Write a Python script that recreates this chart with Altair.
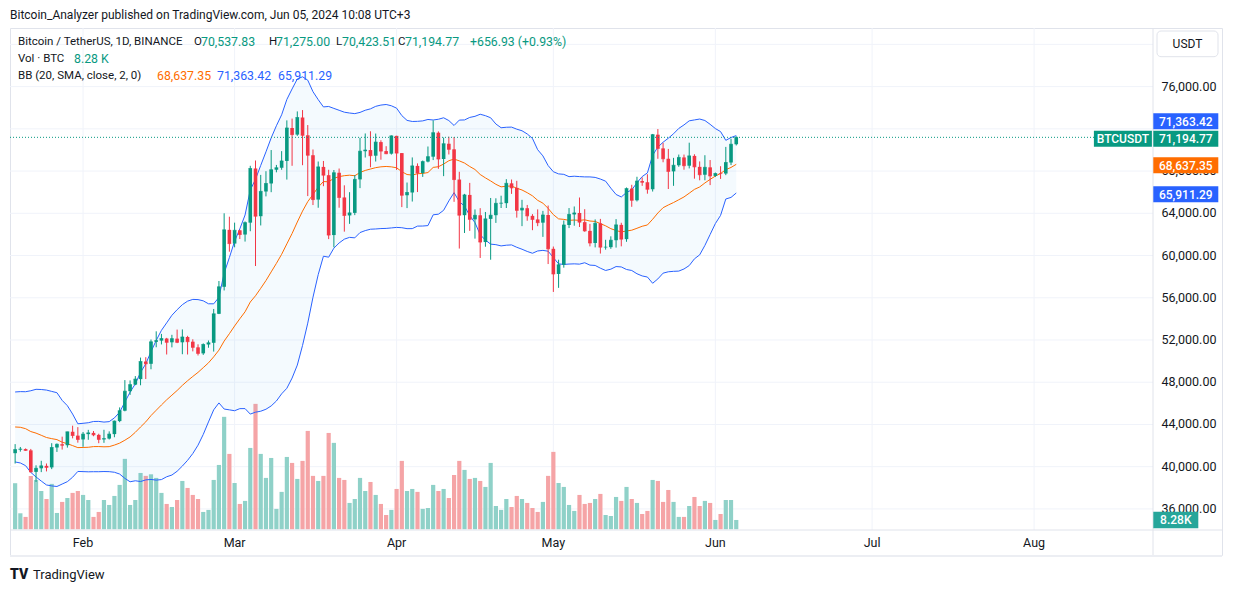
import altair as alt
import pandas as pd

FONT = "Roboto"
INK = "#131722"
UP = "#089981"
DOWN = "#f23645"
VOL_UP = "#8fd1c8"
VOL_DOWN = "#f5a4a6"
BLUE = "#2962ff"
ORANGE = "#ff6d00"
GRID = "#f0f3fa"
BORDER = "#e0e3eb"

# ---------------- data (daily BTCUSDT, 19 Jan - 5 Jun 2024) ----------------
dates = pd.date_range("2024-01-19", "2024-06-05", freq="D").strftime("%Y-%m-%d").tolist()

opens = [
    41278, 41618, 41665, 41545, 39508, 39845, 40077, 39933, 41816, 42120, 42031, 43302, 42941,
    42580, 43082, 43200, 43011, 42583, 42658, 43084, 44318, 45301, 47147, 47771, 48293, 49958,
    49743, 51826, 51939, 52137, 51780, 52126, 51780, 52285, 51839, 51304, 50731, 51572, 51733,
    54477, 57037, 62433,
    61130, 62387, 61988, 63114, 68245, 63725, 66075, 66824, 68125, 68313, 68956, 72079, 71453,
    73072, 71388, 69500, 65300, 68393, 67610, 61938, 67840, 65501, 63796, 64038, 67211, 69880,
    69988, 69455, 70744, 69892, 69645,
    71333, 69702, 65709, 65970, 68488, 67820, 68897, 69362, 71632, 69140, 70587, 70060, 67196,
    63821, 65739, 63426, 63812, 61277, 63470, 63819, 64941, 64960, 66837, 66407, 64277, 64481,
    63756, 63419, 63113, 63841,
    60636, 58254, 59123, 62889, 63891, 64031, 63161, 62334, 61187, 63049, 60792, 60793, 61448,
    62901, 61552, 66339, 65232, 67051, 66940, 66278, 71446, 70148, 69166, 67969, 68549, 69290,
    68508, 69436, 68398, 67652, 68352,
    67540, 67766, 67765, 68810, 70537.83,
]
highs = [
    42134, 41865, 41729, 41680, 40129, 40555, 40300, 42225, 42200, 42842, 43305, 43882, 43745,
    43285, 43488, 43380, 43119, 43494, 43344, 44369, 45614, 48200, 48170, 48580, 50334, 50368,
    52043, 52820, 52574, 52200, 52489, 52985, 53000, 52392, 52065, 51590, 51678, 51950, 54938,
    57588, 64000, 63676,
    63114, 62433, 63231, 68500, 69000, 67637, 67985, 69991, 68580, 69888, 72800, 72969, 73650,
    73777, 72357, 70043, 68905, 68956, 68124, 68100, 68240, 66650, 65999, 67622, 71150, 71561,
    71769, 71552, 70913, 70355, 71378,
    71342, 69708, 66914, 69291, 68725, 69000, 70326, 72797, 71758, 71172, 71256, 71227, 67931,
    65840, 66878, 64365, 64486, 64125, 65450, 65419, 65665, 67233, 67199, 67075, 65275, 64791,
    63923, 64370, 64228, 64734,
    60850, 59602, 63320, 64494, 64646, 65495, 64390, 62995, 63421, 63469, 61490, 61819, 63450,
    63102, 66444, 66700, 67459, 67400, 67700, 71515, 71979, 70666, 70096, 69250, 69562, 69562,
    70687, 69591, 68914, 69500, 69044,
    67860, 68460, 70288, 71063, 71275.00,
]
lows = [
    40297, 41424, 41500, 39450, 38555, 39484, 39550, 39767, 41394, 41620, 41804, 42683, 42276,
    41884, 42546, 42880, 42222, 42258, 42574, 42788, 44213, 45242, 46800, 47722, 47710, 48300,
    49226, 51310, 51578, 50625, 51300, 51700, 50650, 50625, 50921, 50532, 50585, 51265, 50901,
    54450, 56690, 60364,
    60778, 61561, 61321, 62300, 59005, 62849, 65602, 66000, 67880, 68120, 67194, 68500, 71333,
    68555, 65630, 64780, 64526, 66566, 61555, 60776, 64529, 62261, 63000, 63825, 66385, 69280,
    68359, 68903, 69077, 69601, 69558,
    68110, 64586, 64493, 65113, 66011, 67447, 68824, 69041, 68210, 67518, 69571, 65086, 60660,
    62134, 62333, 61600, 59768, 60833, 59600, 63090, 64500, 64500, 65837, 63589, 62783, 63293,
    62400, 62781, 61765, 59191,
    56552, 56937, 58849, 62599, 62822, 62700, 62250, 60866, 60769, 60187, 60556, 60633, 60750,
    60870, 61300, 64614, 65120, 66600, 65857, 66060, 69162, 68833, 66300, 66600, 68402, 68128,
    68250, 67278, 67125, 67128, 66670,
    67445, 67257, 67613, 68568, 70423.51,
]
closes = [
    41618, 41665, 41545, 39508, 39845, 40077, 39933, 41816, 42120, 42031, 43302, 42941, 42580,
    43082, 43200, 43011, 42583, 42658, 43084, 44318, 45301, 47147, 47771, 48293, 49958, 49743,
    51826, 51939, 52137, 51780, 52126, 51780, 52285, 51839, 51304, 50731, 51572, 51733, 54477,
    57037, 62433, 61130,
    62387, 61988, 63114, 68245, 63725, 66075, 66824, 68125, 68313, 68956, 72079, 71453, 73072,
    71388, 69500, 65300, 68393, 67610, 61938, 67840, 65501, 63796, 64038, 67211, 69880, 69988,
    69455, 70744, 69892, 69645, 71333,
    69702, 65709, 65970, 68488, 67820, 68897, 69362, 71632, 69140, 70587, 70060, 67196, 63821,
    65739, 63426, 63812, 61277, 63470, 63819, 64941, 64960, 66837, 66407, 64277, 64481, 63756,
    63419, 63113, 63841, 60636,
    58254, 59123, 62889, 63891, 64031, 63161, 62334, 61187, 63049, 60792, 60793, 61448, 62901,
    61552, 66339, 65232, 67051, 66940, 66278, 71446, 70148, 69166, 67969, 68549, 69290, 68508,
    69436, 68398, 67652, 68352, 67540,
    67766, 67765, 68810, 70537.83, 71194.77,
]
# volume, thousand BTC
vols = [
    40.9, 14.2, 11.0, 47.4, 43.8, 34.0, 26.9, 40.3, 14.5, 24.3, 27.8, 32.3, 34.0,
    30.5, 26.0, 11.0, 15.4, 26.0, 21.6, 29.6, 39.4, 62.5, 21.6, 26.0, 50.0, 47.4, 48.8, 45.6,
    32.3, 22.5, 19.8, 26.0, 42.9, 36.7, 30.5, 26.9, 15.4, 17.2, 43.8, 57.1, 99.8, 66.9,
    41.1, 22.5, 25.2, 72.2, 111.3, 66.9, 45.6, 63.3, 18.1, 33.2, 64.2, 58.9, 44.7, 60.7, 87.3,
    47.4, 42.9, 47.4, 85.5, 76.7, 45.6, 43.8, 23.4, 26.9, 45.6, 34.0, 42.0, 30.5, 22.5, 12.7, 17.2,
    35.8, 60.7, 34.0, 35.8, 33.2, 18.1, 18.9, 39.4, 34.0, 35.8, 27.8, 48.2, 60.7, 52.7, 44.7,
    45.6, 42.9, 37.6, 58.9, 20.7, 17.2, 26.9, 19.8, 29.6, 26.9, 23.4, 18.9, 15.4, 24.3, 47.4,
    68.7, 41.1, 37.6, 21.6, 16.3, 30.5, 22.5, 23.4, 26.9, 31.4, 12.7, 11.8, 28.7, 25.2, 37.6,
    26.9, 23.4, 13.6, 16.3, 43.8, 42.9, 24.3, 34.9, 24.3, 11.0, 11.0, 20.7, 28.7, 20.7, 25.2, 23.4,
    8.3, 13.6, 26.0, 26.0, 8.28,
]
# closes of the 19 days before the visible window (needed by the 20-day band)
prior_dates = pd.date_range("2023-12-31", "2024-01-18", freq="D").strftime("%Y-%m-%d").tolist()
prior_closes = [42283, 44180, 44946, 42845, 44151, 44146, 43968, 43929, 46951, 46110,
                46632, 46339, 42782, 42847, 41732, 42511, 43137, 42776, 41327]

bb_last = {"mid": 68637.35, "up": 71363.42, "lo": 65911.29}
last_vol_text = "8.28 K"
change_text = "+656.93 (+0.93%)"

month_dates = ["2024-02-01", "2024-03-01", "2024-04-01", "2024-05-01",
               "2024-06-01", "2024-07-01", "2024-08-01"]
month_names = ["Feb", "Mar", "Apr", "May", "Jun", "Jul", "Aug"]
grid_prices = [36000, 40000, 44000, 48000, 52000, 56000, 60000, 64000,
               68000, 72000, 76000, 80000]
label_prices = [36000, 40000, 44000, 48000, 52000, 56000, 60000, 64000, 68000, 76000]

candles = pd.DataFrame({"d": dates, "o": opens, "h": highs, "l": lows,
                        "c": closes, "v": vols})
bb_src = pd.DataFrame({"d": prior_dates + dates, "c": prior_closes + closes})
months = pd.DataFrame({"d": month_dates, "m": month_names})
grid_df = pd.DataFrame({"p": grid_prices})
labels_df = pd.DataFrame({"p": label_prices})
one = pd.DataFrame({"k": [0]})

# ---------------- scales ----------------
xs = alt.Scale(type="utc",
               domain=[alt.DateTime(year=2024, month=1, date=19, utc=True),
                       alt.DateTime(year=2024, month=6, date=5, utc=True)],
               range=[0.13, 731.25])
ys = alt.Scale(domain=[36000, 76000], range=[480.9, 58.6], zero=False, nice=False)
vs = alt.Scale(domain=[0, 100], range=[501.3, 388.6], zero=False, nice=False)

X = alt.X("d:T", scale=xs, axis=None)
up_cond = "datum.c >= datum.o"


def Y(field, scale=ys):
    return alt.Y(field, scale=scale, axis=None)


def label(text, x, y, color=INK, size=12, align="left", weight="normal"):
    return alt.Chart(one).mark_text(
        align=align, baseline="middle", font=FONT, fontSize=size,
        fontWeight=weight, color=color
    ).encode(x=alt.value(x), y=alt.value(y), text=alt.value(text))


def tag(value, scale, fill, text, cx, w, h, dy=0.0):
    d = pd.DataFrame({"p": [value]})
    hh = h / w
    shape = f"M-1,-{hh:.4f}L1,-{hh:.4f}L1,{hh:.4f}L-1,{hh:.4f}Z"
    box = alt.Chart(d).mark_point(
        shape=shape, size=w * w, filled=True, color=fill, opacity=1,
        strokeWidth=0, yOffset=dy
    ).encode(x=alt.value(cx), y=Y("p:Q", scale))
    txt = alt.Chart(d).mark_text(
        color="white", font=FONT, fontSize=12, fontWeight=500, align="center",
        baseline="middle", yOffset=dy + 0.5
    ).encode(x=alt.value(cx), y=Y("p:Q", scale), text=alt.value(text))
    return [box, txt]


layers = []

# grid
layers.append(alt.Chart(months).mark_rule(color=GRID, strokeWidth=1).encode(
    x=X, y=alt.value(0), y2=alt.value(502)))
layers.append(alt.Chart(grid_df).mark_rule(color=GRID, strokeWidth=1).encode(
    y=Y("p:Q"), x=alt.value(0), x2=alt.value(1143)))

# volume
layers.append(alt.Chart(candles).mark_bar(size=4.2, clip=True).encode(
    x=X, y=Y("v:Q", vs),
    color=alt.condition(up_cond, alt.value(VOL_UP), alt.value(VOL_DOWN))))

# Bollinger bands (20, SMA, close, 2)
bb = alt.Chart(bb_src).transform_window(
    window=[alt.WindowFieldDef(op="mean", field="c", **{"as": "mid"}),
            alt.WindowFieldDef(op="stdevp", field="c", **{"as": "sd"})],
    frame=[-19, 0],
    sort=[alt.SortField(field="d", order="ascending")],
).transform_calculate(
    up="datum.mid + 2 * datum.sd", lo="datum.mid - 2 * datum.sd"
).transform_filter(
    alt.FieldGTEPredicate(field="d", gte=alt.DateTime(year=2024, month=1, date=19, utc=True))
)
layers.append(bb.mark_area(color="#2196f3", opacity=0.05, clip=True).encode(
    x=X, y=Y("up:Q"), y2="lo:Q"))
layers.append(bb.mark_line(color=BLUE, strokeWidth=1, clip=True).encode(x=X, y=Y("up:Q")))
layers.append(bb.mark_line(color=BLUE, strokeWidth=1, clip=True).encode(x=X, y=Y("lo:Q")))
layers.append(bb.mark_line(color=ORANGE, strokeWidth=1, clip=True).encode(x=X, y=Y("mid:Q")))

# candles
ccol = alt.condition(up_cond, alt.value(UP), alt.value(DOWN))
layers.append(alt.Chart(candles).mark_rule(strokeWidth=1, clip=True).encode(
    x=X, y=Y("l:Q"), y2="h:Q", color=ccol))
layers.append(alt.Chart(candles).mark_bar(size=3.6, clip=True).encode(
    x=X, y=Y("o:Q"), y2="c:Q", color=ccol))
layers.append(alt.Chart(candles).mark_tick(size=3.6, thickness=1, orient="horizontal",
                                           clip=True).encode(
    x=X, y=Y("c:Q"), color=ccol))

# last price dotted line
last_df = pd.DataFrame({"p": [closes[-1]]})
layers.append(alt.Chart(last_df).mark_rule(color=UP, strokeWidth=1, strokeDash=[1, 2]).encode(
    y=Y("p:Q"), x=alt.value(0), x2=alt.value(1084)))

# separators of the axes
layers.append(alt.Chart(one).mark_rule(color=BORDER, strokeWidth=1).encode(
    x=alt.value(1143), y=alt.value(0), y2=alt.value(527)))
layers.append(alt.Chart(one).mark_rule(color=BORDER, strokeWidth=1).encode(
    y=alt.value(502), x=alt.value(0), x2=alt.value(1212)))
layers.append(alt.Chart(one).mark_rule(color="#eceef3", strokeWidth=2).encode(
    y=alt.value(528), x=alt.value(0), x2=alt.value(1212)))

# price axis labels
layers.append(alt.Chart(labels_df).mark_text(
    align="left", baseline="middle", font=FONT, fontSize=12.5, color=INK
).encode(y=Y("p:Q"), x=alt.value(1151.5), text=alt.Text("p:Q", format=",.2f")))

# time axis labels
layers.append(alt.Chart(months).mark_text(
    align="center", baseline="middle", font=FONT, fontSize=12.5, color=INK
).encode(x=X, y=alt.value(515), text="m:N"))

# tags on the price axis
layers += tag(bb_last["up"], ys, BLUE, f"{bb_last['up']:,.2f}", 1175.8, 65, 16, dy=-14.3)
layers += tag(closes[-1], ys, UP, f"{closes[-1]:,.2f}", 1175.8, 65, 16, dy=1.3)
layers += tag(closes[-1], ys, UP, "BTCUSDT", 1112.9, 58, 16, dy=1.3)
layers += tag(bb_last["mid"], ys, ORANGE, f"{bb_last['mid']:,.2f}", 1175.8, 65, 16, dy=1.0)
layers += tag(bb_last["lo"], ys, BLUE, f"{bb_last['lo']:,.2f}", 1175.8, 65, 16, dy=1.2)
layers += tag(vols[-1], vs, "#26a69a", "8.28K", 1165.8, 45, 16.6, dy=0)

# currency box
layers.append(alt.Chart(one).mark_rect(
    fill="white", stroke=BORDER, strokeWidth=1, cornerRadius=4
).encode(x=alt.value(1147), x2=alt.value(1208), y=alt.value(3), y2=alt.value(28.7)))
layers.append(label("USDT", 1177.5, 16, size=12, align="center"))

# header, legend, footer
layers.append(label("Bitcoin_Analyzer published on TradingView.com, Jun 05, 2024 10:08 UTC+3",
                    0, -13, size=12))
layers.append(label("Bitcoin / TetherUS, 1D, BINANCE", 8, 14, size=11.5))
legend_vals = [
    ("O", 184, INK), (f"{opens[-1]:,.2f}", 191, UP),
    ("H", 259, INK), (f"{highs[-1]:,.2f}", 266, UP),
    ("L", 326, INK), (f"{lows[-1]:,.2f}", 332, UP),
    ("C", 388, INK), (f"{closes[-1]:,.2f}", 395, UP),
    (change_text, 460, UP),
]
for t, x, col in legend_vals:
    layers.append(label(t, x, 14, color=col, size=12.3 if col == UP else 11.5))
layers.append(label("Vol · BTC", 8, 31, size=11.5))
layers.append(label(last_vol_text, 64, 31, color=UP, size=12.3))
layers.append(label("BB (20, SMA, close, 2, 0)", 8, 48, size=11.5))
layers.append(label(f"{bb_last['mid']:,.2f}", 147, 48, color=ORANGE, size=12.3))
layers.append(label(f"{bb_last['up']:,.2f}", 207, 48, color=BLUE, size=12.3))
layers.append(label(f"{bb_last['lo']:,.2f}", 268, 48, color=BLUE, size=12.3))

layers.append(label("TV", 0, 547, size=14, weight=900))
layers.append(label("TradingView", 23, 547, size=13))

chart = alt.layer(*layers).resolve_scale(y="independent").properties(
    width=1212,
    height=527,
    padding={"left": 2, "top": 20, "right": 3, "bottom": 29},
    autosize=alt.AutoSizeParams(type="none"),
    background="white",
).configure_view(stroke=BORDER, strokeWidth=1)

chart.save("out.html", embed_options={"renderer": "svg", "actions": False})
